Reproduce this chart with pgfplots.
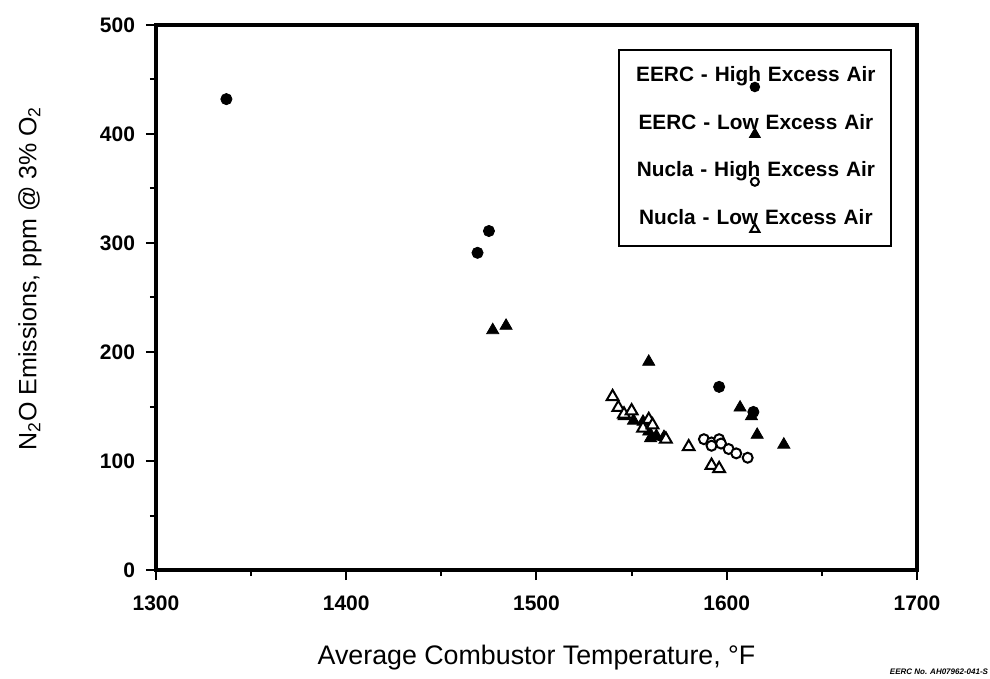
\documentclass[border=0pt]{standalone}
\usepackage{fontspec}
\setmainfont{Liberation Sans}
\usepackage{pgfplots}
\pgfplotsset{compat=1.18}
\pgfplotsset{legimg/.style={legend image code/.code={\path (0,0); \draw[##1, overlay, only marks, mark size=#1] plot coordinates {(63.5bp,-5bp)};}}}

\pgfplotstableread{
x y
1337 432
1469 291
1475 311
1596 168
1614 145
}\eerchigh

\pgfplotstableread{
x y
1477 220
1484 224
1559 191
1607 149
1613 141
1616 124
1630 115
1546 141
1551 137
1556 136
1559 127
1563 123
1567 122
1560 121
}\eerclow

\pgfplotstableread{
x y
1588 120
1592 117
1592 114
1596 120
1597 116
1601 111
1605 107
1611 103
}\nuclahigh

\pgfplotstableread{
x y
1540 159
1543 149
1546 143
1550 146
1559 138
1556 130
1561 133
1568 120
1580 113
1592 96
1596 93
}\nuclalow

\begin{document}
\begin{tikzpicture}
\useasboundingbox (-78bp,-54.5bp) rectangle (417bp,285bp);
\begin{axis}[
 name=ax,
 scale only axis, width=380.5bp, height=272.5bp,
 xmin=1300, xmax=1700, ymin=0, ymax=500,
 xtick={1300,1400,...,1700}, ytick={0,100,...,500},
 minor tick num=1,
 tick pos=left, tick align=outside,
 major tick length=5bp, minor tick length=3bp,
 axis line style={line width=1.6bp},
 every tick/.style={line width=1bp, black},
 /pgf/number format/assume math mode=true,
 /pgf/number format/set thousands separator={},
 ticklabel style={font=\fontsize{10.5bp}{12bp}\selectfont\bfseries},
 xticklabel style={yshift=-4.5bp},
 yticklabel style={xshift=-2bp},
 clip=false,
 xlabel={Average Combustor Temperature, °F},
 ylabel={N\textsubscript{2}O Emissions, ppm @ 3\% O\textsubscript{2}},
 every axis x label/.style={at={(axis description cs:0.5,-0.1615)},anchor=center,font=\fontsize{13.4bp}{15bp}\selectfont},
 every axis y label/.style={at={(axis description cs:-0.1656,0.535)},anchor=center,rotate=90,font=\fontsize{12.5bp}{15bp}\selectfont},
 legend style={at={(rel axis cs:0.967,0.956)}, anchor=north east, draw=black, line width=1bp,
   inner xsep=4bp, inner ysep=3bp, row sep=2.7bp, font=\fontsize{10.4bp}{13bp}\selectfont\bfseries,
   nodes={text width=127bp, align=center, text height=13bp, text depth=8bp, inner xsep=0bp, inner ysep=0bp},
   /tikz/every even column/.style={column sep=0pt}},
 legend cell align=left,
]
\addplot[only marks, mark=*, mark size=2.8bp, black, legimg=2.1bp]
  table {\eerchigh};
\addlegendentry{EERC - High Excess Air}
\addplot[only marks, mark=triangle*, mark size=3.5bp, black, legimg=2.6bp]
  table {\eerclow};
\addlegendentry{EERC - Low Excess Air}
\addplot[only marks, mark=*, mark size=2.5bp, black, mark options={fill=white, line width=1bp}, legimg=2bp]
  table {\nuclahigh};
\addlegendentry{Nucla - High Excess Air}
\addplot[only marks, mark=triangle*, mark size=3.4bp, black, mark options={fill=white, line width=1bp}, legimg=2.6bp]
  table {\nuclalow};
\addlegendentry{Nucla - Low Excess Air}
\end{axis}
\node[font=\fontsize{4bp}{5bp}\selectfont\bfseries\itshape, anchor=center] at ([shift={(11bp,-51bp)}]ax.south east) {EERC No. AH07962-041-S};
\end{tikzpicture}
\end{document}
